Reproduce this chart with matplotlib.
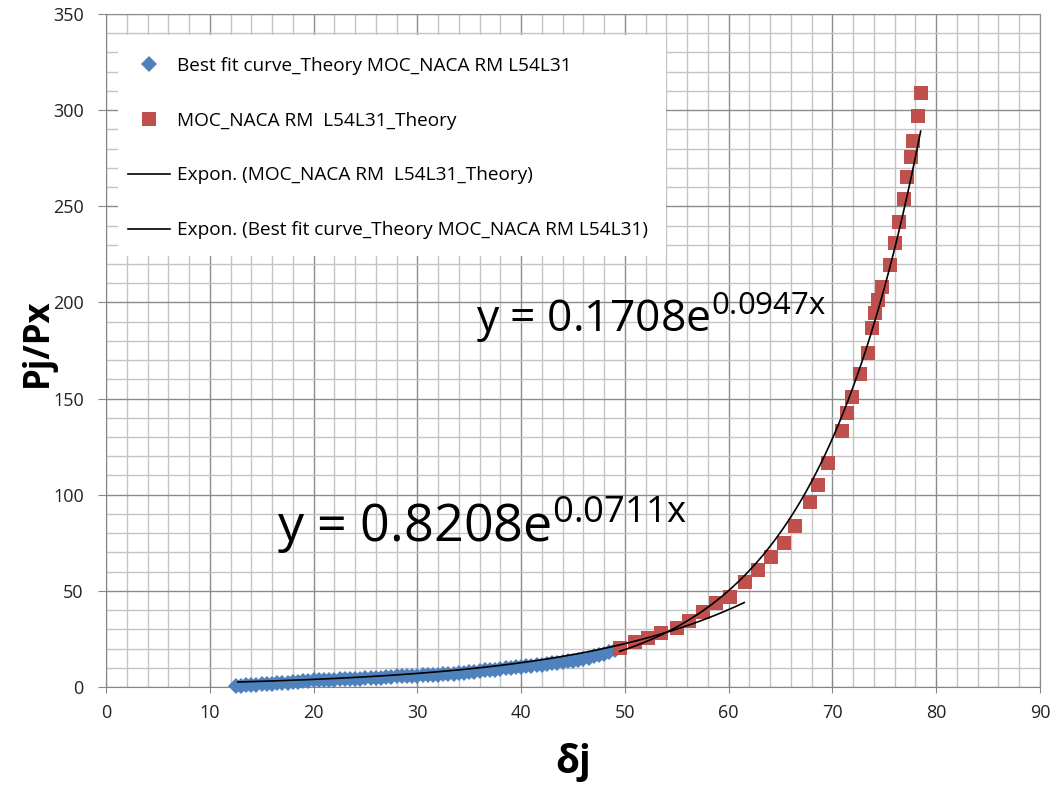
import matplotlib
matplotlib.use("Agg")
import matplotlib.pyplot as plt
import numpy as np
from matplotlib.patches import Rectangle
from matplotlib.ticker import MultipleLocator

plt.rcParams["font.family"] = ["Open Sans", "DejaVu Sans"]

# Blue series: "Best fit curve_Theory MOC_NACA RM L54L31"
best_fit_x = [
    12.5, 13.0, 13.5, 14.0, 14.5, 15.0, 15.5, 16.0, 16.5, 17.0, 17.5, 18.0,
    18.5, 19.0, 19.5, 20.0, 20.5, 21.0, 21.5, 22.0, 22.5, 23.0, 23.5, 24.0,
    24.5, 25.0, 25.5, 26.0, 26.5, 27.0, 27.5, 28.0, 28.5, 29.0, 29.5, 30.0,
    30.5, 31.0, 31.5, 32.0, 32.5, 33.0, 33.5, 34.0, 34.5, 35.0, 35.5, 36.0,
    36.5, 37.0, 37.5, 38.0, 38.5, 39.0, 39.5, 40.0, 40.5, 41.0, 41.5, 42.0,
    42.5, 43.0, 43.5, 44.0, 44.5, 45.0, 45.5, 46.0, 46.5, 47.0, 47.5, 48.0,
    48.5, 49.0,
]
best_fit_y = [
    0.3, 0.7, 0.9, 1.1, 1.2, 1.4, 1.5, 1.7, 1.9, 2.1, 2.3, 2.5,
    2.8, 3.0, 3.2, 3.4, 3.5, 3.7, 3.8, 3.9, 4.0, 4.1, 4.2, 4.3,
    4.4, 4.5, 4.6, 4.8, 4.9, 5.1, 5.3, 5.5, 5.6, 5.7, 5.8, 5.9,
    6.0, 6.1, 6.2, 6.4, 6.6, 6.8, 7.0, 7.2, 7.4, 7.7, 8.0, 8.3,
    8.6, 8.9, 9.1, 9.4, 9.7, 10.0, 10.3, 10.5, 10.8, 11.1, 11.4, 11.7,
    12.0, 12.3, 12.6, 12.9, 13.3, 13.7, 14.2, 14.7, 15.3, 15.9, 16.5, 17.3,
    18.2, 19.0,
]

# Red series: "MOC_NACA RM L54L31_Theory"
moc_x = [
    49.5, 51.0, 52.2, 53.5, 55.0, 56.2, 57.5, 58.8, 60.1, 61.6, 62.8, 64.1,
    65.3, 66.4, 67.8, 68.6, 69.6, 70.9, 71.4, 71.9, 72.7, 73.4, 73.8, 74.1,
    74.4, 74.8, 75.5, 76.0, 76.4, 76.9, 77.2, 77.6, 77.8, 78.2, 78.5,
]
moc_y = [
    20.1, 23.6, 25.3, 27.9, 30.5, 34.5, 39.2, 43.5, 47.0, 54.8, 60.8, 67.8,
    74.7, 83.8, 96.2, 105.0, 116.5, 133.3, 142.5, 151.0, 163.0, 173.5, 186.5, 194.3,
    201.2, 208.2, 219.4, 230.7, 241.6, 254.0, 265.4, 275.8, 284.0, 297.0, 308.7,
]

# Exponential trend lines (a * exp(b * x)) as drawn, with their x ranges
best_fit_trend = (1.24, 0.058, 12.7, 61.5)
moc_trend = (0.1708, 0.0947, 49.5, 78.5)

labels = [
    "Best fit curve_Theory MOC_NACA RM L54L31",
    "MOC_NACA RM  L54L31_Theory",
    "Expon. (MOC_NACA RM  L54L31_Theory)",
    "Expon. (Best fit curve_Theory MOC_NACA RM L54L31)",
]
equations = ["y = 0.1708e", "y = 0.8208e"]
exponents = ["0.0947x", "0.0711x"]

BLUE = "#4F81BD"
RED = "#C0504D"

fig = plt.figure(figsize=(10.55, 7.87), dpi=100)
ax = fig.add_axes([106 / 1055, 100 / 787, 934 / 1055, 673 / 787])

blue = ax.plot(best_fit_x, best_fit_y, "D", color=BLUE, ms=8.5, mew=0,
               zorder=3, clip_on=False, label=labels[0])[0]
red = ax.plot(moc_x, moc_y, "s", color=RED, ms=10.5, mew=0,
              zorder=3, clip_on=False, label=labels[1])[0]


def trend(params):
    a, b, x0, x1 = params
    xs = np.linspace(x0, x1, 200)
    return xs, a * np.exp(b * xs)


tx, ty = trend(moc_trend)
red_line = ax.plot(tx, ty, color="black", lw=1.2, zorder=4, label=labels[2])[0]
tx, ty = trend(best_fit_trend)
blue_line = ax.plot(tx, ty, color="black", lw=1.2, zorder=4, label=labels[3])[0]

ax.set_xlim(0, 90)
ax.set_ylim(0, 350)
ax.xaxis.set_major_locator(MultipleLocator(10))
ax.xaxis.set_minor_locator(MultipleLocator(2))
ax.yaxis.set_major_locator(MultipleLocator(50))
ax.yaxis.set_minor_locator(MultipleLocator(10))
ax.set_axisbelow(True)
ax.grid(which="major", color="#8c8c8c", lw=1.0)
ax.grid(which="minor", color="#c4c4c4", lw=1.0)
for side in ("top", "right"):
    ax.spines[side].set_color("#8c8c8c")
for side in ("left", "bottom"):
    ax.spines[side].set_color("#868686")
ax.tick_params(axis="y", which="major", direction="out", length=6,
               color="#868686", labelsize=13, labelcolor="#222222", pad=10)
ax.tick_params(axis="x", which="major", direction="inout", length=9,
               color="#868686", labelsize=13, labelcolor="#222222", pad=8)
ax.tick_params(which="minor", length=0)

ax.set_xlabel("δj", fontsize=28, fontweight="bold")
ax.xaxis.set_label_coords(0.5, -0.083)
ax.set_ylabel("Pj/Px", fontsize=25, fontweight="bold", va="center")
ax.yaxis.set_label_coords(-0.073, 0.511)

ax.text(35.7, 184.6, equations[0] + r"$\mathregular{^{" + exponents[0] + "}}$",
        fontsize=32, ha="left", va="baseline", zorder=5)
ax.text(16.5, 75.4, equations[1] + r"$\mathregular{^{" + exponents[1] + "}}$",
        fontsize=37.5, ha="left", va="baseline", zorder=5)

# white legend area covering the grid
ax.add_patch(Rectangle((0.013, 0.640), 0.587, 0.329, transform=ax.transAxes,
                       facecolor="white", edgecolor="none", zorder=2))
ax.legend(handles=[blue, red, red_line, blue_line], loc="upper left",
          bbox_to_anchor=((128 - 106) / 934, (687 - 57) / 673),
          frameon=False, fontsize=13.7, numpoints=1, handlelength=2.2,
          handletextpad=0.4, labelspacing=1.93, borderpad=0, borderaxespad=0)

fig.savefig("out.png", dpi=100)
